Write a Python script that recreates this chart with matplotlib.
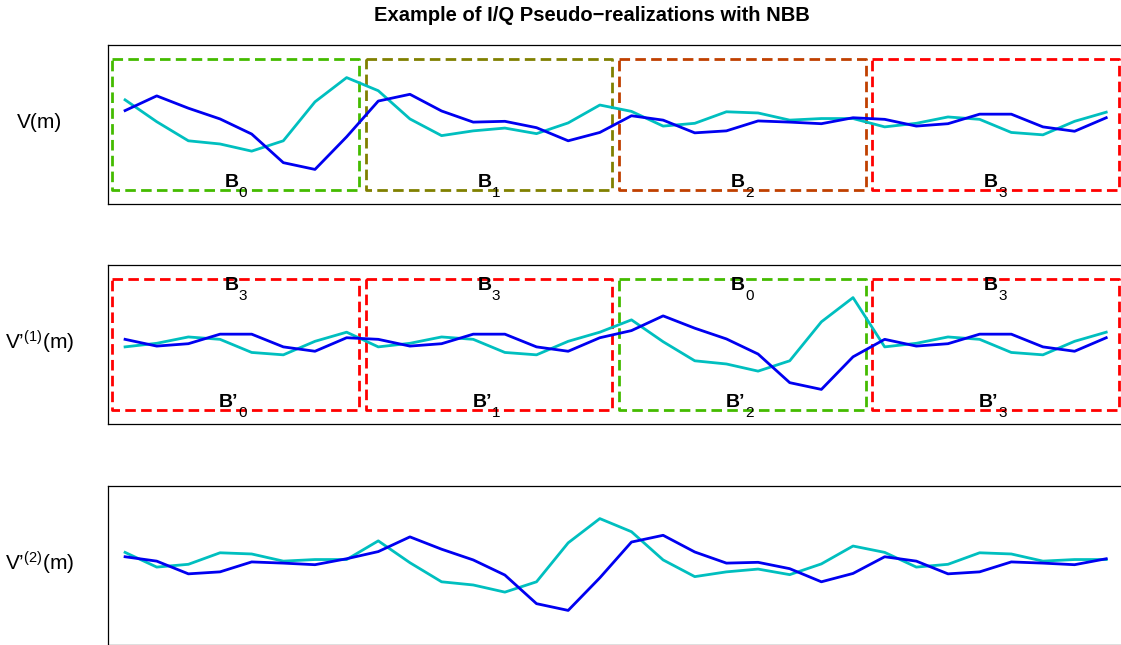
import matplotlib
matplotlib.use("Agg")
import matplotlib.pyplot as plt
import numpy as np

plt.rcParams["font.family"] = ["Liberation Sans", "DejaVu Sans"]
plt.rcParams["mathtext.fontset"] = "custom"
plt.rcParams["mathtext.rm"] = "Liberation Sans"
plt.rcParams["mathtext.it"] = "Liberation Sans"
plt.rcParams["mathtext.default"] = "regular"

# original I/Q realization, 32 samples (4 blocks of 8)
v_i = [0.35, 0.72, 0.41, 0.14, -0.24, -0.96, -1.13, -0.31,
       0.59, 0.76, 0.34, 0.06, 0.08, -0.08, -0.41, -0.20,
       0.22, 0.11, -0.21, -0.16, 0.09, 0.06, 0.02, 0.17,
       0.13, -0.04, 0.02, 0.26, 0.26, -0.06, -0.17, 0.17]
v_q = [0.62, 0.07, -0.41, -0.49, -0.67, -0.41, 0.57, 1.18,
       0.85, 0.14, -0.28, -0.16, -0.09, -0.23, 0.04, 0.49,
       0.33, -0.04, 0.03, 0.32, 0.29, 0.11, 0.15, 0.15,
       -0.06, 0.03, 0.19, 0.13, -0.20, -0.26, 0.08, 0.31]

block_len = 8
# block order drawn for each pseudo-realization
resample_1 = [3, 3, 0, 3]
resample_2 = [2, 0, 1, 2]

block_colors = ["#44bb00", "#808000", "#c04000", "#ff0000"]
c_i = "#0000f0"
c_q = "#00bfbf"

row_labels = ["V(m)", "V’$^{(1)}$(m)", "V’$^{(2)}$(m)"]


def rebuild(series, order):
    s = np.asarray(series)
    return np.concatenate([s[b * block_len:(b + 1) * block_len] for b in order])


def draw_box(ax, k, color):
    x0 = k * block_len - 0.4
    x1 = k * block_len + block_len - 0.6
    ax.plot([x0, x1, x1, x0, x0], [1.65, 1.65, -1.65, -1.65, 1.65],
            color=color, lw=2.0, ls=(0, (3.8, 1.9)), zorder=1)


def block_label(ax, k, y, base, sub):
    # bold letter with a plain, dropped subscript, centred on block k
    xc = k * block_len + 3.5
    ax.annotate(base, (xc, y), xytext=(2, 0), textcoords="offset points",
                ha="right", va="baseline", fontsize=14, fontweight="bold")
    ax.annotate(sub, (xc, y), xytext=(2, -7.2), textcoords="offset points",
                ha="left", va="baseline", fontsize=11)


W, H = 1121, 645
fig = plt.figure(figsize=(W / 100, H / 100), dpi=100)

panel_tops = [45, 265, 486]
panel_h = 159
x_left = 108.3
xlim = (-0.53, 31.7)
step = 31.65
ax_w = (xlim[1] - xlim[0]) * step

series_sets = [
    (v_i, v_q),
    (rebuild(v_i, resample_1), rebuild(v_q, resample_1)),
    (rebuild(v_i, resample_2), rebuild(v_q, resample_2)),
]

for row, top in enumerate(panel_tops):
    ax = fig.add_axes([x_left / W, 1 - (top + panel_h) / H, ax_w / W, panel_h / H])
    yi, yq = series_sets[row]
    x = np.arange(len(yi))

    if row == 0:
        for k in range(4):
            draw_box(ax, k, block_colors[k])
            block_label(ax, k, -1.57, "B", str(k))
    elif row == 1:
        for k, b in enumerate(resample_1):
            draw_box(ax, k, block_colors[b])
            block_label(ax, k, 1.37, "B", str(b))
            block_label(ax, k, -1.57, "B’", str(k))

    ax.plot(x, yq, color=c_q, lw=2.0, zorder=2)
    ax.plot(x, yi, color=c_i, lw=2.0, zorder=3)

    ax.set_xlim(*xlim)
    ax.set_ylim(-2, 2)
    ax.set_xticks([])
    ax.set_yticks([])
    for sp in ax.spines.values():
        sp.set_linewidth(0.9)

    fig.text(40 / W, 1 - (top + panel_h / 2 - 2) / H, row_labels[row],
             ha="center", va="center", fontsize=15)

fig.text(592 / W, 1 - 21 / H, "Example of I/Q Pseudo−realizations with NBB",
         ha="center", va="baseline", fontsize=14.5, fontweight="bold")

fig.savefig("out.png", dpi=100)
plt.close(fig)
